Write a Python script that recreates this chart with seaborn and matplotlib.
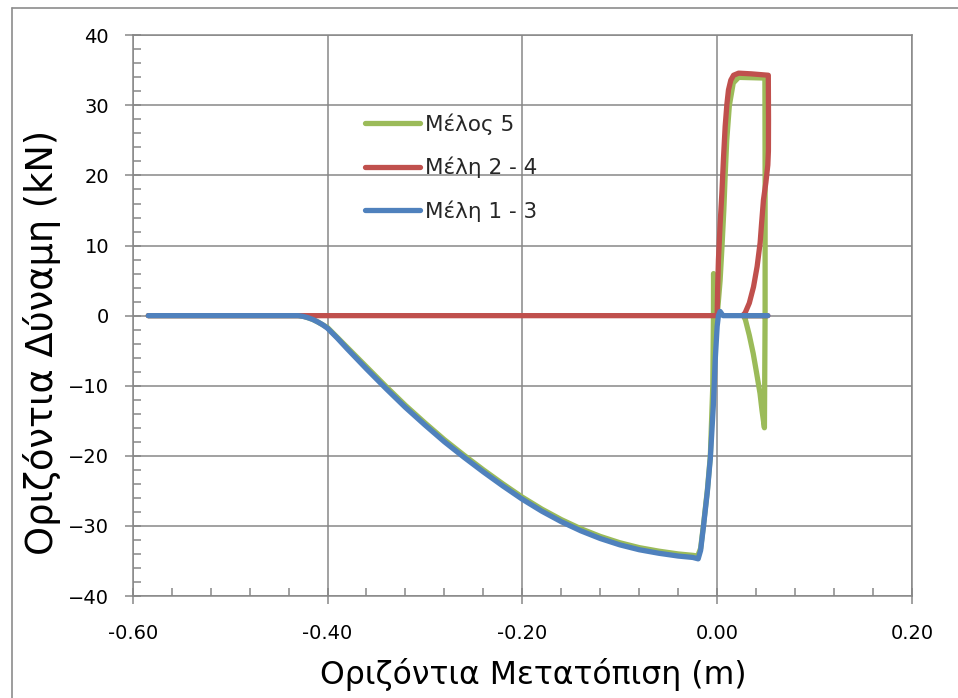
import numpy as np
import pandas as pd
import matplotlib
matplotlib.use("Agg")
import matplotlib.pyplot as plt
import seaborn as sns
from matplotlib.lines import Line2D
from matplotlib.ticker import MultipleLocator, FormatStrFormatter

# ---------------- data ----------------
series_names = ["Μέλος 5", "Μέλη 2 - 4", "Μέλη 1 - 3"]
series_colors = ["#9BBB59", "#C0504D", "#4F81BD"]

blue_x = [-0.584, -0.50, -0.43, -0.425, -0.42, -0.415, -0.41, -0.405, -0.40, -0.39,
          -0.38, -0.36, -0.34, -0.32,
          -0.30, -0.28, -0.26, -0.24, -0.22, -0.20, -0.18, -0.16, -0.14, -0.12,
          -0.10, -0.08, -0.06, -0.04, -0.025, -0.0195, -0.017, -0.014, -0.010,
          -0.007, -0.004, -0.002, 0.0, 0.0013, 0.003, 0.006, 0.052]
blue_y = [0, 0, 0, -0.1, -0.3, -0.55, -0.9, -1.3, -1.8, -3.2,
          -4.7, -7.6, -10.4, -13.1,
          -15.6, -18.0, -20.2, -22.3, -24.3, -26.2, -27.9, -29.4, -30.7, -31.8,
          -32.7, -33.4, -33.9, -34.3, -34.5, -34.7, -33.5, -30.0, -25.0,
          -20.3, -13.0, -6.3, -1.5, 0.0, 0.6, 0.0, 0.0]

green_x = [-0.584, -0.43, -0.425, -0.42, -0.415, -0.41, -0.405, -0.40, -0.39,
           -0.38, -0.36, -0.34, -0.32,
           -0.30, -0.28, -0.26, -0.24, -0.22, -0.20, -0.18, -0.16, -0.14, -0.12,
           -0.10, -0.08, -0.06, -0.04, -0.025, -0.02, -0.017, -0.014, -0.010,
           -0.007, -0.0045, -0.0038, -0.0037, -0.0033, 0.0, 0.003, 0.005, 0.0068,
           0.0082, 0.0098, 0.0125, 0.0165, 0.022, 0.049, 0.0492, 0.0492, 0.0485,
           0.046, 0.044, 0.040, 0.037, 0.033, 0.029, 0.027, 0.050]
green_y = [0, 0, -0.1, -0.3, -0.55, -0.9, -1.3, -1.7, -3.1,
           -4.5, -7.3, -10.1, -12.8,
           -15.3, -17.7, -19.9, -22.0, -24.0, -25.9, -27.6, -29.1, -30.4, -31.5,
           -32.4, -33.1, -33.6, -34.0, -34.2, -34.3, -33.2, -29.8, -24.8,
           -20.0, -10.0, 0.0, 6.0, 0.0, 0.0, 5.0, 10.0, 15.0,
           20.0, 25.0, 30.0, 33.2, 34.0, 33.9, 20.0, 0.0, -16.0,
           -13.5, -11.1, -7.8, -5.4, -2.8, -0.6, 0.0, 0.0]

red_x = [-0.584, 0.0, 0.0005, 0.0013, 0.0030, 0.0048, 0.0065, 0.0082, 0.0100,
         0.0116, 0.014, 0.0168, 0.022, 0.035, 0.0525, 0.0527, 0.0526, 0.0520,
         0.0500, 0.0475, 0.0455, 0.0441, 0.0410, 0.0373, 0.0330, 0.0287, 0.026, 0.052]
red_y = [0, 0, 4.0, 8.0, 13.0, 17.4, 22.5, 27.0, 30.2,
         32.2, 33.6, 34.3, 34.6, 34.5, 34.3, 28.0, 23.5, 21.5,
         19.0, 16.5, 13.0, 10.4, 7.0, 4.1, 1.8, 0.4, 0.0, 0.0]

x_ticks = [-0.60, -0.40, -0.20, 0.00, 0.20]
y_ticks = [-40, -30, -20, -10, 0, 10, 20, 30, 40]
x_label = "Οριζόντια Μετατόπιση (m)"
y_label = "Οριζόντια Δύναμη (kN)"

# ---------------- frame ----------------
frames = []
for name, xs, ys in zip(series_names, [green_x, red_x, blue_x], [green_y, red_y, blue_y]):
    frames.append(pd.DataFrame({"x": xs, "y": ys, "series": name}))
df = pd.concat(frames, ignore_index=True)

sns.set_theme(style="white")
plt.rcParams["font.family"] = ["DejaVu Sans"]

W, H = 958, 698
fig = plt.figure(figsize=(W / 100, H / 100), dpi=100)
fig.patch.set_facecolor("white")
ax = fig.add_axes([132.7 / W, 1 - 596 / H, (912 - 132.7) / W, (596 - 35.3) / H])

sns.lineplot(data=df, x="x", y="y", hue="series", hue_order=series_names,
             palette=series_colors, sort=False, estimator=None, legend=False,
             linewidth=3.8, solid_capstyle="round", solid_joinstyle="round", ax=ax)

grid_col = "#878787"
ax.set_xlim(-0.60, 0.20)
ax.set_ylim(-40, 40)
ax.set_xticks(x_ticks)
ax.set_yticks(y_ticks)
ax.xaxis.set_major_formatter(FormatStrFormatter("%.2f"))
ax.xaxis.set_minor_locator(MultipleLocator(0.04))
ax.yaxis.set_minor_locator(MultipleLocator(2))
ax.grid(True, which="major", color=grid_col, linewidth=1.1)
ax.grid(False, which="minor")
ax.set_axisbelow(True)
for s in ax.spines.values():
    s.set_visible(True)
    s.set_color(grid_col)
    s.set_linewidth(1.1)
ax.tick_params(bottom=True, left=True, top=False, right=False, which="both")
ax.tick_params(axis="both", which="major", direction="inout", length=11, width=1.1,
               color=grid_col, labelsize=14, labelcolor="black")
ax.tick_params(axis="both", which="minor", direction="in", length=5.5, width=1.1,
               color=grid_col)
ax.tick_params(axis="x", which="major", pad=14.5)
ax.tick_params(axis="y", which="major", pad=11.5)

ax.set_xlabel(x_label, fontsize=22.7, color="black")
ax.set_ylabel(y_label, fontsize=26.5, color="black")
ax.xaxis.set_label_coords((533 - 132.7) / 779.3, -(658 - 596) / 560.7)
ax.yaxis.set_label_coords((61 - 132.7) / 779.3, (596 - 342) / 560.7)

handles = ax.get_lines()[:3]
leg = ax.legend(handles=handles, labels=series_names, loc="upper left",
                bbox_to_anchor=(0.298, 0.861), frameon=False, fontsize=15.5,
                handlelength=2.55, handletextpad=0.25, labelspacing=1.02,
                borderpad=0, borderaxespad=0)

# outer chart border
fig.add_artist(Line2D([11.7 / W, 11.7 / W], [0, 1 - 8 / H], transform=fig.transFigure,
                      color="#8C8C8C", linewidth=1.2))
fig.add_artist(Line2D([11.7 / W, 1], [1 - 8 / H, 1 - 8 / H], transform=fig.transFigure,
                      color="#8C8C8C", linewidth=1.2))

fig.savefig("out.png", dpi=100, facecolor="white")
